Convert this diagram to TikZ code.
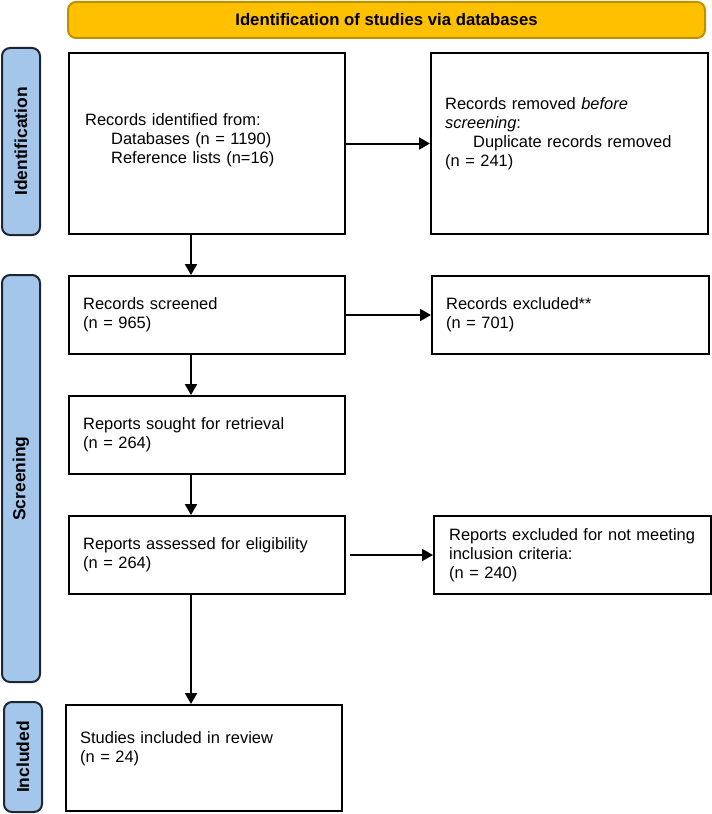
\documentclass[tikz,border=0pt]{standalone}
\usepackage{fontspec}
\setmainfont{Liberation Sans}
\usetikzlibrary{arrows.meta}
\definecolor{bannerfill}{HTML}{FFC000}
\definecolor{bannerdraw}{HTML}{BF9000}
\definecolor{sidefill}{HTML}{A4C6EA}
\definecolor{sidedraw}{HTML}{1F2633}
\begin{document}
\begin{tikzpicture}[x=1bp,y=-1bp,
  every node/.style={font=\fontsize{16.5}{19}\selectfont},
  flowbox/.style={draw=black,line width=2bp,inner xsep=0bp,inner ysep=0bp,anchor=north west},
  boxtext/.style={align=left,anchor=west,inner xsep=0bp},
  sidelabel/.style={draw=sidedraw,fill=sidefill,line width=2bp,rounded corners=8bp},
  sidetext/.style={font=\fontsize{17.5}{19}\selectfont\bfseries,rotate=90},
  arr/.style={line width=2bp,-{Triangle[length=11bp,width=12bp]}}]
\useasboundingbox (0,0) rectangle (712,814);
% banner
\draw[draw=bannerdraw,fill=bannerfill,line width=2bp,rounded corners=8bp] (68,2) rectangle (705,38);
\node[font=\fontsize{16.8}{19}\selectfont\bfseries] (banner) at (386.5,20) {Identification of studies via databases};
% side labels
\draw[sidelabel] (2,48) rectangle (40,235);
\node[sidetext] (sid) at (21,141.5) {Identification};
\draw[sidelabel] (2,275) rectangle (40,682);
\node[sidetext] (sscr) at (21,478.5) {Screening};
\draw[sidelabel] (4,702) rectangle (42,812);
\node[sidetext] (sinc) at (23,757) {Included};
% boxes
\node[flowbox,minimum width=276bp,minimum height=181bp] (b1) at (68,52) {};
\node[boxtext,text width=250bp] (t1) at (85,140) {Records identified from:\\\hspace*{26bp}Databases (n = 1190)\\\hspace*{26bp}Reference lists (n=16)};
\node[flowbox,minimum width=277bp,minimum height=181bp] (b2) at (430,52) {};
\node[boxtext,text width=255bp] (t2) at (445,134) {Records removed \textit{before}\\\textit{screening}:\\\hspace*{28bp}Duplicate records removed\\(n = 241)};
\node[flowbox,minimum width=276bp,minimum height=78bp] (b3) at (68,275) {};
\node[boxtext,text width=250bp] (t3) at (83,315) {Records screened\\(n = 965)};
\node[flowbox,minimum width=277bp,minimum height=78bp] (b4) at (431,275) {};
\node[boxtext,text width=255bp] (t4) at (446,315) {Records excluded**\\(n = 701)};
\node[flowbox,minimum width=276bp,minimum height=78bp] (b5) at (68,395) {};
\node[boxtext,text width=250bp] (t5) at (83,435) {Reports sought for retrieval\\(n = 264)};
\node[flowbox,minimum width=276bp,minimum height=78bp] (b6) at (68,515) {};
\node[boxtext,text width=250bp] (t6) at (83,555) {Reports assessed for eligibility\\(n = 264)};
\node[flowbox,minimum width=277bp,minimum height=78bp] (b7) at (433,515) {};
\node[boxtext,text width=262bp] (t7) at (449,555) {Reports excluded for not meeting\\inclusion criteria:\\(n = 240)};
\node[flowbox,minimum width=276bp,minimum height=106bp] (b8) at (65,704) {};
\node[boxtext,text width=250bp] (t8) at (80,749) {Studies included in review\\(n = 24)};
% connectors
\coordinate (ax) at (191,0);
\draw[arr] (b1.east) -- (b2.west);
\draw[arr] (b3.east) -- (b4.west);
\draw[arr] ([xshift=4bp]b6.east) -- (b7.west);
\draw[arr] (b1.south -| ax) -- (b3.north -| ax);
\draw[arr] (b3.south -| ax) -- (b5.north -| ax);
\draw[arr] (b5.south -| ax) -- (b6.north -| ax);
\draw[arr] (b6.south -| ax) -- (b8.north -| ax);
\end{tikzpicture}
\end{document}
